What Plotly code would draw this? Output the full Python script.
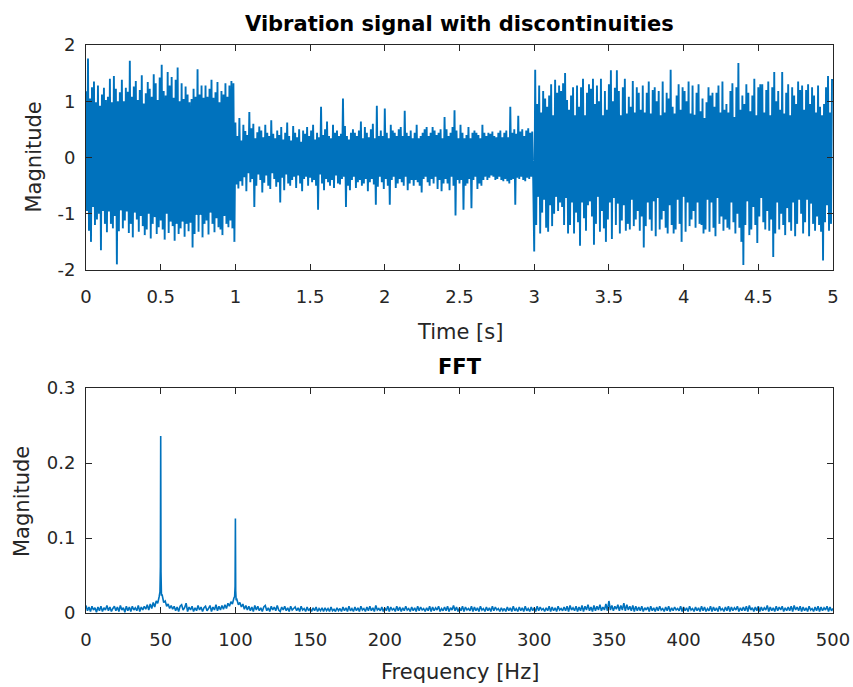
import numpy as np
import plotly.graph_objects as go
from plotly.subplots import make_subplots

# ---------------- data (signal values in hundredths) ----------------
signal_0_1s = [
    118, -95, 176, -130, 105, -150, 125, -88, 135, -120, 98, -110, 128, -100, 92,
    -165, 112, -95, 124, -118, 102, -133, 108, -96, 140, -118, 98, -126, 145, -104,
    122, -190, 100, -131, 116, -94, 138, -126, 100, -112, 124, -96, 117, -134, 172,
    -118, 108, -142, 126, -98, 136, -110, 102, -132, 120, -104, 146, -122, 96, -138,
    114, -128, 134, -100, 122, -144, 108, -118, 148, -106, 132, -136, 102, -124, 142,
    -112, 165, -128, 118, -146, 110, -100, 152, -134, 128, -114, 143, -122, 106, -148,
    138, -118, 160, -136, 100, -126, 132, -114, 104, -141, 126, -118, 112, -131, 98,
    -116, 104, -160, 122, -136, 108, -102, 157, -132, 112, -102, 128, -142, 106, -118,
    128, -112, 108, -137, 122, -98, 138, -118, 106, -133, 116, -108, 134, -124, 98,
    -128, 118, -138, 112, -104, 132, -118, 108, -124, 128, -112, 136, -126, 132, -150,
]
signal_1_3s = [
    62, -48, 38, -55, 70, -42, 30, -50, 58, -35, 47, -60, 40, -28, 81,
    -44, 52, -38, 60, -88, 34, -50, 45, -30, 55, -40, 48, -62, 36, -45,
    58, -32, 44, -50, 38, -56, 66, -28, 42, -38, 34, -52, 48, -44, 40,
    -80, 54, -36, 32, -58, 44, -30, 62, -46, 38, -50, 30, -40, 56, -34,
    44, -54, 36, -32, 50, -46, 28, -60, 48, -38, 42, -34, 54, -50, 38,
    -36, 48, -44, 58, -40, 32, -50, 44, -93, 36, -30, 90, -46, 40, -58,
    50, -38, 64, -44, 38, -50, 34, -40, 58, -54, 44, -32, 48, -46, 38,
    -48, 42, -38, 105, -34, 56, -88, 38, -50, 32, -58, 44, -40, 50, -34,
    44, -54, 38, -44, 48, -40, 64, -50, 34, -46, 54, -38, 44, -60, 36,
    -44, 50, -38, 60, -48, 34, -84, 92, -52, 38, -34, 48, -44, 38, -56,
    87, -38, 44, -50, 34, -84, 58, -40, 48, -34, 44, -54, 38, -46, 50,
    -38, 54, -44, 38, -50, 83, -34, 44, -58, 38, -46, 48, -40, 34, -50,
    44, -40, 58, -44, 34, -50, 38, -62, 44, -38, 50, -34, 54, -44, 38,
    -50, 44, -38, 54, -46, 48, -34, 40, -56, 44, -40, 50, -60, 34, -46,
    72, -38, 50, -46, 38, -58, 44, -34, 54, -50, 84, -103, 48, -40, 34,
    -46, 58, -40, 44, -93, 34, -50, 40, -46, 54, -38, 34, -90, 44, -40,
    48, -34, 44, -56, 40, -46, 34, -50, 58, -40, 44, -34, 38, -40, 44,
    -36, 42, -32, 46, -34, 38, -40, 36, -38, 44, -34, 48, -40, 36, -42,
    44, -38, 48, -42, 36, -46, 90, -40, 44, -38, 50, -84, 42, -36, 74,
    -38, 46, -34, 50, -40, 38, -42, 48, -36, 52, -38, 44, -34, 46, -40,
]
signal_3_5s = [
    -167, 156, -120, 95, -70, 128, -135, 80, -98, 118, -75, 105, -125, 90, -132,
    110, -85, 130, -122, 75, -100, 138, -70, 115, -95, 128, -80, 118, -88, 132,
    -120, 150, -72, 102, -135, 85, -120, 110, -80, 125, -135, 75, -98, 128, -115,
    90, -157, 125, -80, 140, -108, 75, -130, 115, -85, 130, -78, 122, -105, 140,
    -155, 95, -118, 128, -70, 100, -132, 140, -95, 75, -126, 118, -150, 85, -110,
    130, -80, 155, -145, 100, -72, 124, -120, 155, -82, 118, -135, 75, -112, 125,
    -85, 140, -130, 78, -118, 108, -128, 90, -75, 136, -122, 80, -110, 125, -95,
    115, -130, 85, -105, 128, -160, 80, -122, 115, -80, 135, -110, 78, -130, 120,
    -78, 125, -140, 100, -72, 118, -128, 75, -110, 135, -95, 80, -125, 115, -135,
    105, -85, 156, -120, 90, -135, 78, -128, 110, -75, 130, -118, 85, -150, 125,
    -70, 118, -132, 100, -80, 135, -122, 78, -110, 128, -95, 76, -125, 115, -80,
    130, -118, 82, -120, 105, -135, 70, -128, 98, -75, 125, -132, 110, -80, 115,
    -125, 90, -140, 115, -72, 128, -118, 80, -105, 135, -130, 85, -110, 95, -125,
    80, -128, 118, -80, 132, -115, 72, -135, 125, -100, 168, -125, 85, -150, 110,
    -191, 95, -120, 130, -78, 115, -138, 82, -128, 110, -88, 140, -120, 75, -152,
    125, -105, 130, -72, 130, -115, 80, -128, 120, -95, 135, -130, 75, -110, 125,
    -177, 152, -135, 100, -80, 118, -128, 85, -100, 152, -120, 78, -138, 115, -90,
    130, -115, 75, -130, 125, -80, 110, -140, 95, -118, 135, -75, 120, -100, 128,
    -135, 85, -115, 120, -75, 130, -140, 95, -82, 125, -118, 110, -130, 80, -105,
    128, -120, 90, -132, 75, -183, 95, -115, 125, -85, 145, -130, 80, -118, 138,
]

# FFT magnitude (thousandths) on a 1 Hz grid, 0..500 Hz
fft_floor_milli = [
    10, 3, 8, 2, 9, 4, 7, 1, 8, 3,   9, 2, 7, 4, 10, 3, 8, 2, 6, 9,
    3, 8, 2, 10, 4, 7, 1, 9, 3, 8,   2, 9, 4, 7, 3, 10, 2, 8, 4, 9,
    5, 11, 4, 12, 6, 14, 8, 16, 13, 22,   236, 24, 14, 16, 9, 12, 6, 10, 5, 9,
    3, 8, 2, 9, 11, 4, 7, 13, 2, 8,   4, 9, 2, 7, 3, 10, 4, 8, 2, 7,
    9, 3, 6, 10, 2, 8, 4, 11, 3, 9,   4, 10, 5, 11, 6, 13, 9, 15, 12, 20,
    126, 18, 11, 14, 8, 12, 5, 10, 4, 9,   3, 8, 2, 10, 4, 9, 3, 7, 2, 8,
    10, 3, 7, 2, 9, 4, 8, 3, 10, 4,   2, 8, 4, 9, 3, 7, 2, 9, 4, 6,
    8, 3, 7, 2, 9, 4, 6, 2, 8, 3,   6, 2, 7, 3, 8, 2, 6, 3, 7, 2,
    7, 3, 6, 2, 8, 3, 5, 2, 7, 3,   6, 2, 8, 3, 7, 2, 9, 3, 6, 2,
    8, 3, 7, 2, 9, 4, 6, 2, 8, 3,   9, 3, 7, 2, 10, 4, 6, 3, 8, 2,
    7, 3, 9, 2, 8, 4, 6, 2, 9, 3,   8, 2, 7, 3, 9, 4, 6, 2, 8, 3,
    7, 2, 9, 3, 8, 4, 6, 2, 7, 3,   9, 2, 8, 3, 7, 4, 9, 2, 6, 3,
    8, 3, 9, 2, 7, 4, 10, 3, 8, 2,   7, 3, 9, 2, 8, 4, 6, 3, 9, 2,
    8, 3, 7, 2, 9, 4, 6, 2, 8, 3,   7, 2, 9, 3, 8, 4, 6, 2, 7, 3,
    6, 2, 8, 3, 7, 2, 9, 3, 6, 2,   8, 3, 7, 2, 9, 3, 6, 2, 8, 3,
    7, 2, 9, 3, 8, 4, 6, 2, 7, 3,   9, 2, 8, 3, 7, 2, 9, 4, 6, 3,
    8, 3, 9, 2, 10, 4, 7, 3, 9, 2,   8, 3, 10, 2, 9, 4, 11, 3, 8, 2,
    10, 3, 9, 4, 11, 3, 8, 4, 12, 3,   16, 4, 10, 3, 9, 5, 11, 3, 10, 4,
    13, 3, 11, 4, 9, 3, 10, 2, 9, 3,   8, 3, 9, 2, 7, 4, 8, 2, 9, 3,
    7, 2, 8, 3, 9, 4, 6, 2, 8, 3,   9, 2, 7, 3, 8, 4, 6, 3, 9, 2,
    8, 3, 7, 2, 9, 4, 6, 2, 8, 3,   7, 2, 9, 3, 8, 2, 6, 3, 9, 2,
    8, 3, 7, 2, 9, 4, 6, 2, 8, 3,   9, 2, 8, 3, 7, 4, 9, 2, 7, 3,
    8, 3, 9, 2, 10, 4, 7, 2, 8, 3,   9, 2, 8, 3, 7, 4, 10, 2, 8, 3,
    7, 2, 9, 3, 8, 4, 9, 2, 7, 3,   8, 3, 9, 2, 10, 4, 8, 3, 9, 2,
    8, 3, 7, 2, 9, 4, 6, 2, 8, 3,   9, 2, 8, 3, 7, 4, 9, 2, 8, 3,
    6,
]
# finer detail around the two peaks
peak_detail_freq = [49.5, 49.8, 50.2, 50.5, 99.5, 99.8, 100.2, 100.5]
peak_detail_milli = [28, 62, 55, 24, 22, 36, 30, 17]

x_ticks_time = [0, 0.5, 1, 1.5, 2, 2.5, 3, 3.5, 4, 4.5, 5]
y_ticks_time = [-2, -1, 0, 1, 2]
y_tick_text_time = ["-2", "-1", "0", "1", "2"]
x_ticks_freq = [0, 50, 100, 150, 200, 250, 300, 350, 400, 450, 500]
y_ticks_freq = [0, 0.1, 0.2, 0.3]
y_tick_text_freq = ["0", "0.1", "0.2", "0.3"]

# ---------------- build series ----------------
segments = [(signal_0_1s, 0.0, 1.0), (signal_1_3s, 1.0, 3.0), (signal_3_5s, 3.0, 5.0)]
t_parts, s_parts = [], []
for vals, a, b in segments:
    t_parts.append(np.linspace(a, b, len(vals), endpoint=False))
    s_parts.append(np.array(vals, dtype=float) / 100.0)
t = np.concatenate(t_parts + [np.array([5.0])])
sig = np.concatenate(s_parts + [np.array([s_parts[-1][-1]])])

f = np.concatenate([np.arange(len(fft_floor_milli), dtype=float), np.array(peak_detail_freq)])
m = np.concatenate([np.array(fft_floor_milli, dtype=float), np.array(peak_detail_milli, dtype=float)]) / 1000.0
order = np.argsort(f, kind="stable")
f, m = f[order], m[order]

# ---------------- figure ----------------
W, H = 853, 687
ML, MR, MT, MB = 86, 20, 45, 74
PH = H - MT - MB
PW = W - ML - MR
def py(ypage):
    return (H - MB - ypage) / PH
def px(xpage):
    return (xpage - ML) / PW

fig = make_subplots(rows=2, cols=1)
line_color = "#0072BD"
fig.add_trace(go.Scatter(x=t, y=sig, mode="lines",
                         line=dict(color=line_color, width=1.9, simplify=False)), row=1, col=1)
fig.add_trace(go.Scatter(x=f, y=m, mode="lines",
                         line=dict(color=line_color, width=1.6, simplify=False)), row=2, col=1)

axis_color = "#262626"
tick_font = dict(family="DejaVu Sans", size=18, color=axis_color)
common = dict(showline=True, linecolor=axis_color, linewidth=1, mirror="ticks",
              ticks="inside", ticklen=6, tickcolor=axis_color, tickwidth=1,
              showgrid=False, zeroline=False, tickfont=tick_font, automargin=False)

fig.update_layout(
    width=W, height=H, margin=dict(l=ML, r=MR, t=MT, b=MB),
    paper_bgcolor="white", plot_bgcolor="white", showlegend=False,
    xaxis=dict(domain=[0, 1], range=[0, 5], tickmode="array", tickvals=x_ticks_time,
               ticklabelstandoff=10, **common),
    yaxis=dict(domain=[py(270), py(45)], range=[-2, 2], tickmode="array",
               tickvals=y_ticks_time, ticktext=y_tick_text_time, ticklabelstandoff=6, **common),
    xaxis2=dict(domain=[0, 1], range=[0, 500], tickmode="array", tickvals=x_ticks_freq,
                ticklabelstandoff=10, **common),
    yaxis2=dict(domain=[py(613), py(388)], range=[0, 0.3], tickmode="array",
                tickvals=y_ticks_freq, ticktext=y_tick_text_freq, ticklabelstandoff=6, **common),
)

label_font = dict(family="DejaVu Sans", size=21, color=axis_color)
title_font = dict(family="DejaVu Sans", size=21, color="black")
ann = [
    dict(text="<b>Vibration signal with discontinuities</b>", x=px(459.5), y=py(24), font=title_font),
    dict(text="<b>FFT</b>", x=px(459.5), y=py(367), font=title_font),
    dict(text="Time [s]", x=px(459.5), y=py(332), font=label_font),
    dict(text="Frequency [Hz]", x=px(459.5), y=py(672), font=label_font),
    dict(text="Magnitude", x=px(33), y=py(157.5), font=label_font, textangle=-90),
    dict(text="Magnitude", x=px(22), y=py(502), font=label_font, textangle=-90),
]
for a in ann:
    fig.add_annotation(xref="paper", yref="paper", showarrow=False,
                       xanchor="center", yanchor="middle", **a)

fig.write_html(
    "out.html",
    config={"displayModeBar": False},
    post_script="document.body.style.margin='0px';document.body.style.overflow='hidden';",
)
